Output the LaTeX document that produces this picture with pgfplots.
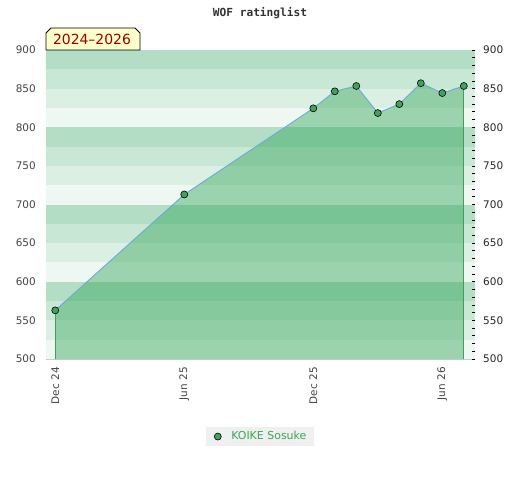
\documentclass[border=0pt]{standalone}
\usepackage{fontspec}
\setmainfont{DejaVu Sans}
\newfontfamily\monofont{DejaVu Sans Mono}
\usepackage{pgfplots}
\pgfplotsset{compat=1.18}
\definecolor{bandA}{HTML}{B3DEC5}
\definecolor{bandB}{HTML}{C8E7D4}
\definecolor{bandC}{HTML}{DCEFE3}
\definecolor{bandD}{HTML}{EEF7F1}
\definecolor{areafill}{RGB}{34,158,76}
\definecolor{areaedge}{HTML}{3FA05E}
\definecolor{linecol}{HTML}{6FA8DC}
\definecolor{markcol}{HTML}{3DA35D}
\definecolor{legtext}{HTML}{3AA655}
\definecolor{legbg}{HTML}{F0F0F0}
\definecolor{ticktext}{HTML}{444444}
\definecolor{labbg}{HTML}{FFFFCC}
\definecolor{labtext}{HTML}{990000}
\pgfplotstableread{
m r
0 563
6 713
12 824.5
13 846.5
14 853.4
15 818.4
16 830
17 857
18 844.3
19 853.4
}\ratings
\begin{document}
\begin{tikzpicture}
\path[use as bounding box] (-46bp,-121bp) rectangle (474bp,359bp);
\begin{axis}[
  at={(0,0)}, anchor=south west,
  scale only axis, width=429bp, height=309bp,
  xmin=-0.43, xmax=19.52, ymin=500, ymax=900,
  axis lines*=left,
  axis line style={draw=black!20, line width=1bp},
  xtick={0,6,12,18},
  xticklabels={Dec 24, Jun 25, Dec 25, Jun 26},
  ytick={500,550,...,900},
  major tick length=0pt,
  tick style={draw=none},
  x tick label style={rotate=90, anchor=east, inner sep=0pt, text=ticktext,
    font=\fontsize{10.5}{12}\selectfont},
  xticklabel shift=8bp,
  y tick label style={inner sep=0pt, text=ticktext,
    font=\fontsize{10.5}{12}\selectfont},
  yticklabel shift=10bp,
  /pgf/number format/assume math mode=true,
  legend style={at={(0.499,-0.251)}, anchor=center, fill=legbg, draw=none,
    text=legtext, font=\fontsize{11}{13}\selectfont,
    inner xsep=4bp, inner ysep=2.5bp,
    nodes={inner xsep=3.5bp, inner ysep=2bp}},
  legend image code/.code={\path[draw=none,fill=none] (-7.5bp,0bp) -- (10bp,0bp); \draw[#1] plot coordinates {(0bp,0bp)};},
]
% background bands
\fill[bandD] (axis cs:-1,500) rectangle (axis cs:20,525);
\fill[bandC] (axis cs:-1,525) rectangle (axis cs:20,550);
\fill[bandB] (axis cs:-1,550) rectangle (axis cs:20,575);
\fill[bandA] (axis cs:-1,575) rectangle (axis cs:20,600);
\fill[bandD] (axis cs:-1,600) rectangle (axis cs:20,625);
\fill[bandC] (axis cs:-1,625) rectangle (axis cs:20,650);
\fill[bandB] (axis cs:-1,650) rectangle (axis cs:20,675);
\fill[bandA] (axis cs:-1,675) rectangle (axis cs:20,700);
\fill[bandD] (axis cs:-1,700) rectangle (axis cs:20,725);
\fill[bandC] (axis cs:-1,725) rectangle (axis cs:20,750);
\fill[bandB] (axis cs:-1,750) rectangle (axis cs:20,775);
\fill[bandA] (axis cs:-1,775) rectangle (axis cs:20,800);
\fill[bandD] (axis cs:-1,800) rectangle (axis cs:20,825);
\fill[bandC] (axis cs:-1,825) rectangle (axis cs:20,850);
\fill[bandB] (axis cs:-1,850) rectangle (axis cs:20,875);
\fill[bandA] (axis cs:-1,875) rectangle (axis cs:20,900);
\addplot[fill=areafill, fill opacity=0.4, draw=none, forget plot] table[x=m,y=r]{\ratings} \closedcycle;
\addplot[ycomb, draw=areaedge, line width=1.1bp, forget plot] coordinates {(0,563) (19,853.4)};
\addplot[linecol, line width=0.9bp, forget plot] table[x=m,y=r]{\ratings};
\addplot[only marks, mark=*, mark size=3.5bp, mark options={fill=markcol, draw=black, line width=0.6bp}] table[x=m,y=r]{\ratings};
\addlegendentry{KOIKE Sosuke}
\end{axis}
\begin{axis}[
  at={(0,0)}, anchor=south west,
  scale only axis, width=429bp, height=309bp,
  xmin=-0.43, xmax=19.52, ymin=500, ymax=900,
  axis x line=none,
  axis y line*=right,
  axis line style={draw=none},
  ytick={500,550,...,900},
  minor y tick num=4,
  tick align=inside,
  major tick length=3bp, minor tick length=3bp,
  tick style={draw=black, line width=0.7bp},
  y tick label style={inner sep=0pt, text=black!85,
    font=\fontsize{10.5}{12}\selectfont},
  yticklabel shift=8bp,
  /pgf/number format/assume math mode=true,
]
\end{axis}
\node[font=\monofont\bfseries\fontsize{11.2}{13}\selectfont, text=black!80] at (214bp,346bp) {WOF ratinglist};
\draw[fill=labbg, draw=black, line width=0.8bp] (0,309bp) -- (0,326bp) -- (5bp,331bp) -- (89bp,331bp) -- (94bp,326bp) -- (94bp,309bp) -- cycle;
\node[text=labtext, font=\fontsize{14}{16}\selectfont, inner sep=0pt] at (46bp,319.5bp) {2024–2026};
\end{tikzpicture}
\end{document}
